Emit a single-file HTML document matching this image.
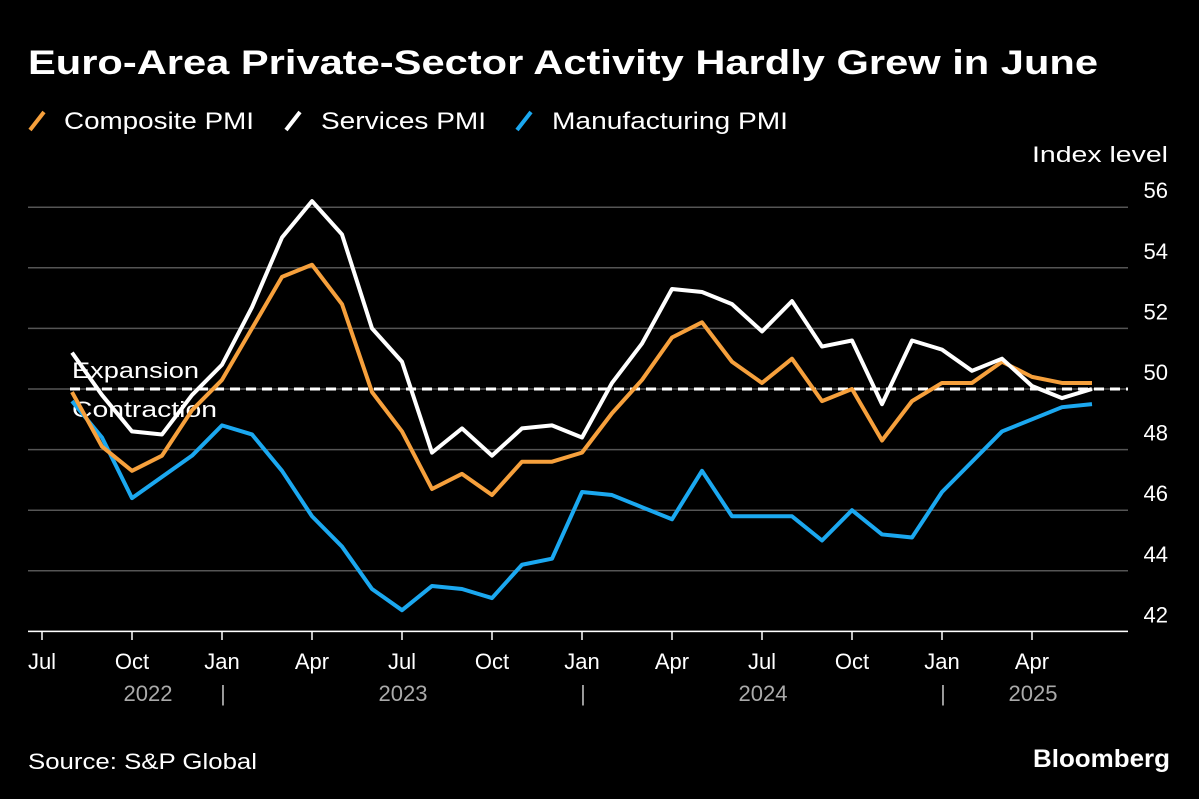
<!DOCTYPE html>
<html><head><meta charset="utf-8"><style>
body{margin:0;background:#000;width:1199px;height:799px;overflow:hidden;font-family:"Liberation Sans",sans-serif;color:#fff}
svg{position:absolute;left:0;top:0}
</style></head><body>
<svg width="1199" height="799">
<text x="28" y="74" font-size="34" font-weight="bold" fill="#fff" textLength="1070" lengthAdjust="spacingAndGlyphs">Euro-Area Private-Sector Activity Hardly Grew in June</text>
<g font-size="24" fill="#fff">
<line x1="30" y1="130" x2="44" y2="112" stroke="#f6a03c" stroke-width="4"/><text x="64" y="129" textLength="190" lengthAdjust="spacingAndGlyphs">Composite PMI</text>
<line x1="286" y1="130" x2="300" y2="112" stroke="#fff" stroke-width="4"/><text x="321" y="129" textLength="165" lengthAdjust="spacingAndGlyphs">Services PMI</text>
<line x1="517" y1="130" x2="531" y2="112" stroke="#1ba8f0" stroke-width="4"/><text x="552" y="129" textLength="236" lengthAdjust="spacingAndGlyphs">Manufacturing PMI</text>
</g>
<text x="1168" y="162" font-size="22" fill="#fff" text-anchor="end" textLength="136" lengthAdjust="spacingAndGlyphs">Index level</text>
<g id="grid"></g><g id="yt"></g><g id="xt"></g>
<line x1="70" y1="389" x2="1128" y2="389" stroke="#fff" stroke-width="3" stroke-dasharray="10,6"/>
<text x="72" y="378" font-size="22" fill="#fff" textLength="127" lengthAdjust="spacingAndGlyphs">Expansion</text>
<text x="72" y="417" font-size="22" fill="#fff" textLength="145" lengthAdjust="spacingAndGlyphs">Contraction</text>
<g id="lines"></g>
<text x="28" y="769" font-size="22" fill="#fff" textLength="229" lengthAdjust="spacingAndGlyphs">Source: S&amp;P Global</text>
<text x="1033" y="767" font-size="25" font-weight="bold" fill="#fff" textLength="137" lengthAdjust="spacingAndGlyphs">Bloomberg</text>
</svg>
<script>
const yTicks=[42,44,46,48,50,52,54,56];
const xLabels=["Jul","Oct","Jan","Apr","Jul","Oct","Jan","Apr","Jul","Oct","Jan","Apr"];
const years=["2022","2023","2024","2025"];
const composite=[49.9,48.1,47.3,47.8,49.3,50.3,52.0,53.7,54.1,52.8,49.9,48.6,46.7,47.2,46.5,47.6,47.6,47.9,49.2,50.3,51.7,52.2,50.9,50.2,51.0,49.6,50.0,48.3,49.6,50.2,50.2,50.9,50.4,50.2,50.2];
const services=[51.2,49.8,48.6,48.5,49.8,50.8,52.7,55.0,56.2,55.1,52.0,50.9,47.9,48.7,47.8,48.7,48.8,48.4,50.2,51.5,53.3,53.2,52.8,51.9,52.9,51.4,51.6,49.5,51.6,51.3,50.6,51.0,50.1,49.7,50.0];
const manufacturing=[49.6,48.4,46.4,47.1,47.8,48.8,48.5,47.3,45.8,44.8,43.4,42.7,43.5,43.4,43.1,44.2,44.4,46.6,46.5,46.1,45.7,47.3,45.8,45.8,45.8,45.0,46.0,45.2,45.1,46.6,47.6,48.6,49.0,49.4,49.5];
const NS="http://www.w3.org/2000/svg";
const y=v=>389-(v-50)*30.3;
const x=i=>42+30*i;
function mk(t,a,p){const e=document.createElementNS(NS,t);for(const k in a)e.setAttribute(k,a[k]);p.appendChild(e);return e;}
const grid=document.getElementById('grid'),yt=document.getElementById('yt'),xt=document.getElementById('xt'),ln=document.getElementById('lines');
yTicks.forEach(v=>{
 const g=mk('line',{x1:28,x2:1128,y1:y(v),y2:y(v),stroke:'#555','stroke-width':1.5},grid);
 
 
 const t=mk('text',{x:1168,y:y(v)-9,'font-size':22,'text-anchor':'end',fill:'#fff'},yt);t.textContent=v;
 
 
});
mk('line',{x1:28,x2:1128,y1:y(42),y2:y(42),stroke:'#fff','stroke-width':1.5},grid);
xLabels.forEach((l,i)=>{
 const xx=x(i*3);
 mk('line',{x1:xx,x2:xx,y1:631,y2:640,stroke:'#fff','stroke-width':1.5},xt);
 const t=mk('text',{x:xx,y:669,'font-size':22,'text-anchor':'middle',fill:'#fff'},xt);t.textContent=l;
 
 
});
const yPos=[148,403,763,1033];
years.forEach((l,i)=>{
 const t=mk('text',{x:yPos[i],y:701,'font-size':22,'text-anchor':'middle',fill:'#aaa'},xt);t.textContent=l;
 
 
});
[223,583,943].forEach(xx=>{const t=mk('text',{x:xx,y:701,'font-size':22,'text-anchor':'middle',fill:'#aaa'},xt);t.textContent='|';});
function line(data,col,name){
 const p=mk('polyline',{points:data.map((v,i)=>x(i+1)+','+y(v)).join(' '),fill:'none',stroke:col,'stroke-width':4,'stroke-linejoin':'round'},ln);
 
 
}
line(manufacturing,'#1ba8f0','manufacturing-line');
line(composite,'#f6a03c','composite-line');
line(services,'#fff','services-line');
</script>
</body></html>
